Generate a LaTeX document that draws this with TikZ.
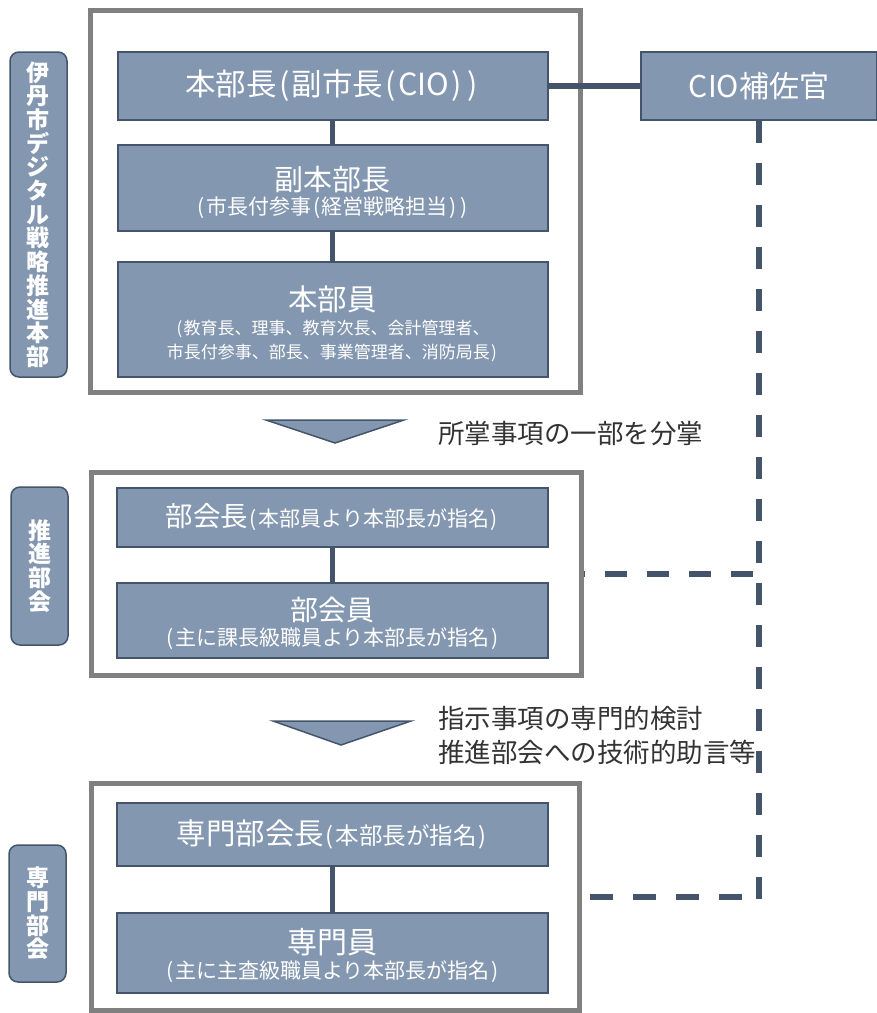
\documentclass[tikz,border=0pt]{standalone}
\usepackage{fontspec}
\setmainfont{Noto Sans CJK JP}
\definecolor{boxfill}{HTML}{8497B0}
\definecolor{boxline}{HTML}{44546A}
\definecolor{framegray}{HTML}{808080}
\definecolor{txtdark}{HTML}{333333}
\newcommand{\fsz}[2]{\fontsize{#1}{#2}\selectfont}
\newcommand{\LP}{\kern0.08em(\kern0.08em}
\newcommand{\RP}{\kern0.08em)\kern0.08em}
\newcommand{\up}[1]{\rule{0pt}{#1pt}}
\begin{document}
\begin{tikzpicture}[x=1pt,y=-1pt,
  orgbox/.style={draw=boxline, line width=2pt, fill=boxfill, text=white, inner sep=0pt, align=center, minimum width=430pt},
  outerframe/.style={draw=framegray, line width=5pt, fill=white, inner sep=0pt},
  sidelabel/.style={draw=boxline, line width=1.5pt, fill=boxfill, text=white, rounded corners=9pt, inner sep=0pt, align=center, minimum width=57pt, font=\fsz{23}{23.7}\bfseries},
  link/.style={draw=boxline, line width=5pt},
  dlink/.style={draw=boxline, line width=6pt, dash pattern=on 22pt off 20pt},
  tri/.style={draw=boxline, line width=1.5pt, fill=boxfill, line join=miter},
  sidenote/.style={text=txtdark, font=\fsz{26.5}{34}, anchor=west, inner sep=0pt, align=left}
]
\useasboundingbox (0,0) rectangle (877,1013);

% frames
\node[outerframe, minimum width=490pt, minimum height=382pt] (f1) at (335,201) {};
\node[outerframe, minimum width=490pt, minimum height=203pt] (f2) at (336,573.5) {};
\node[outerframe, minimum width=488pt, minimum height=227pt] (f3) at (335,896.5) {};

% side labels
\node[sidelabel, minimum height=325pt] (L1) at (38.5,214.5) {伊\\丹\\市\\デ\\ジ\\タ\\ル\\戦\\略\\推\\進\\本\\部};
\node[sidelabel, minimum height=158pt] (L2) at (39.5,566) {推\\進\\部\\会};
\node[sidelabel, minimum height=137pt] (L3) at (37.5,913.5) {専\\門\\部\\会};

% boxes
\node[orgbox, minimum height=68pt, font=\fsz{30.5}{36}] (b1) at (332.5,86) {本部長\LP 副市長\LP CIO\RP\RP};
\node[orgbox, minimum height=86pt, font=\fsz{21}{24}] (b2) at (332.5,188) {\up{33.2}{\fsz{29}{34}副本部長}\\\LP 市長付参事\LP 経営戦略担当\RP\RP};
\node[orgbox, minimum height=115pt, font=\fsz{17}{24}] (b3) at (332.5,319.5) {\up{34}{\fsz{29.5}{34}本部員}\\\LP 教育長、理事、教育次長、会計管理者、\\市長付参事、部長、事業管理者、消防局長\RP};
\node[orgbox, minimum width=236pt, minimum height=68pt, font=\fsz{30}{36}] (cio) at (759,86) {CIO補佐官};

\node[orgbox, minimum width=431pt, minimum height=59pt, font=\fsz{21}{24}] (b4) at (332.5,517.5) {{\fsz{27.5}{34}部会長}\LP 本部員より本部長が指名\RP};
\node[orgbox, minimum width=431pt, minimum height=75pt, font=\fsz{21}{25.4}] (b5) at (332.5,620.5) {\up{28.8}{\fsz{28}{34}部会員}\\\LP 主に課長級職員より本部長が指名\RP};

\node[orgbox, minimum width=431pt, minimum height=63pt, font=\fsz{23.5}{28}] (b6) at (332.5,834.5) {{\fsz{29.5}{34}専門部会長}\LP 本部長が指名\RP};
\node[orgbox, minimum width=431pt, minimum height=80pt, font=\fsz{21}{24.6}] (b7) at (332.5,953) {\up{30.6}{\fsz{30}{34}専門員}\\\LP 主に主査級職員より本部長が指名\RP};

% triangles
\draw[tri] (266,420) -- (404,420) -- (335,443) -- cycle;
\draw[tri] (273,721) -- (411,721) -- (341,745) -- cycle;

% notes
\node[sidenote] (t1) at (438,433) {所掌事項の一部を分掌};
\node[sidenote] (t2) at (438,735) {指示事項の専門的検討\\推進部会への技術的助言等};

% connectors
\draw[link] (b1) -- (b2);
\draw[link] (b2) -- (b3);
\draw[link] (b4) -- (b5);
\draw[link] (b6) -- (b7);
\draw[link, line width=6pt] (b1.east) -- (cio.west);

\coordinate (vend) at (759,900);
\coordinate (j2) at (753,573.5);
\coordinate (j3) at (742,896.5);
\draw[dlink] (cio.south) -- (vend);
\draw[dlink] (j2) -- (f2.east);
\draw[dlink, dash pattern=on 23pt off 20pt] (j3) -- (f3.east);
\end{tikzpicture}
\end{document}
